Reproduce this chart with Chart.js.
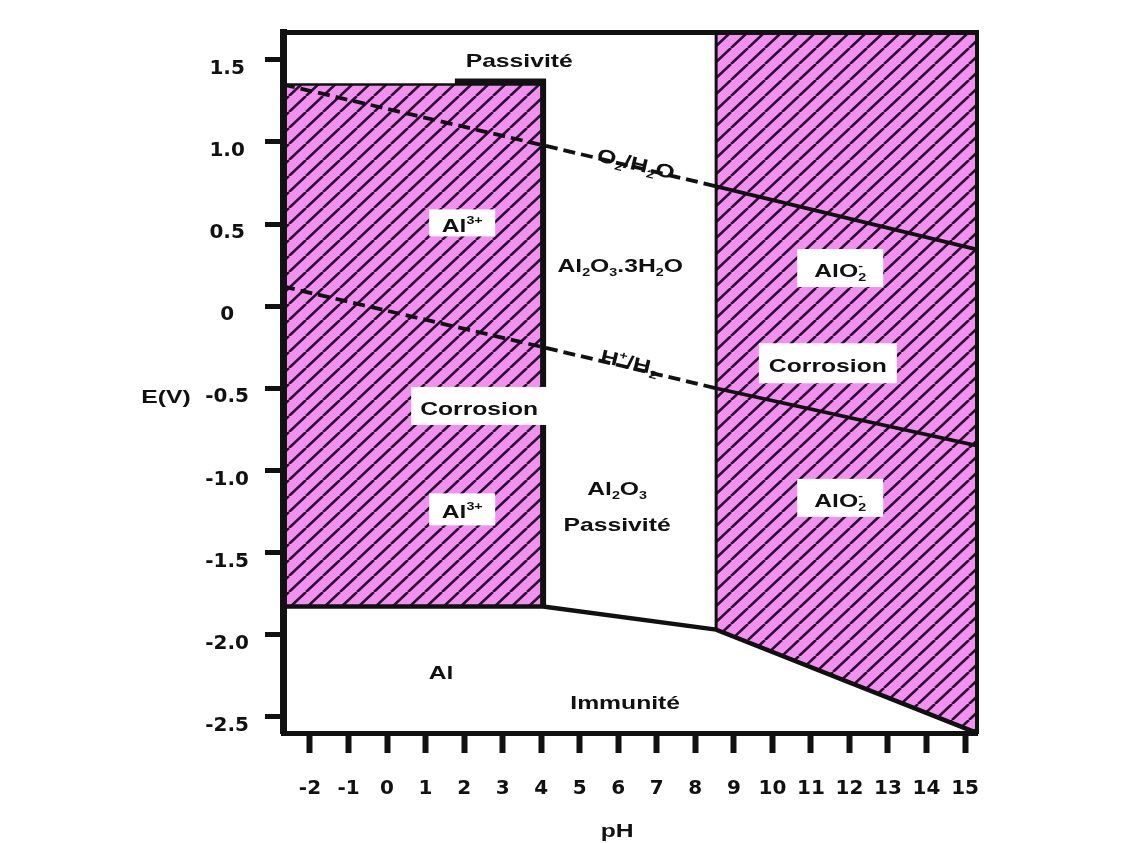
<!DOCTYPE html>
<html>
<head>
<meta charset="utf-8">
<title>Diagramme potentiel-pH de l'aluminium</title>
<script src="https://cdn.jsdelivr.net/npm/chart.js@4.4.1/dist/chart.umd.min.js"></script>
<style>
    html, body { margin: 0; padding: 0; background: #fff; }
    canvas { display: block; }
</style>
</head>
<body>
<canvas id="pourbaix" width="1136" height="843"></canvas>
<script>
/* ============================================================
   Diagramme E-pH de l'aluminium
   ============================================================ */

/* graduations */
var phTicks     = [-2, -1, 0, 1, 2, 3, 4, 5, 6, 7, 8, 9, 10, 11, 12, 13, 14, 15];
var eTicks      = [1.5, 1.0, 0.5, 0, -0.5, -1.0, -1.5, -2.0, -2.5];
var eTickLabels = ['1.5', '1.0', '0.5', '0', '-0.5', '-1.0', '-1.5', '-2.0', '-2.5'];

/* domaines et frontières [pH, E] */
var al3Top        = [[-2.7, 1.35], [4.05, 1.35]];
var al3Bottom     = [[-2.7, -1.83], [4.05, -1.83]];
var alo2Top       = [[8.54, 1.67], [15.31, 1.67]];
var alo2Bottom    = [[8.54, -1.97], [15.31, -2.6]];
var passivityStep = [[1.76, 1.368], [4.05, 1.368], [4.05, -1.83]];
var immunityLimit = [[-2.7, -1.83], [4.05, -1.83], [8.54, -1.97], [15.31, -2.6]];
var alo2Edge      = [[8.54, 1.67], [8.54, -1.97]];

/* droites de l'eau */
var o2Line = [[-2.7, 1.35], [4.05, 0.98], [8.54, 0.73], [15.4, 0.34]];
var h2Line = [[-2.7, 0.12], [4.05, -0.25], [8.54, -0.50], [15.31, -0.85]];

/* textes (position en pH / E) */
var regionLabels = [
    { text: 'Passivité',        x: 3.43,  y: 1.50 },
    { text: 'Al^{3+}',          x: 1.95,  y: 0.495, box: [66, 27] },
    { text: 'Corrosion',        x: 2.39,  y: -0.62, box: [136, 38] },
    { text: 'Al^{3+}',          x: 1.95,  y: -1.25, box: [66, 32] },
    { text: 'Al_{2}O_{3}.3H_{2}O', x: 6.05, y: 0.25 },
    { text: 'AlO_{2}^{-}',      x: 11.76, y: 0.22,  box: [86, 38] },
    { text: 'Corrosion',        x: 11.44, y: -0.36, box: [138, 40] },
    { text: 'AlO_{2}^{-}',      x: 11.76, y: -1.18, box: [86, 38] },
    { text: 'Al_{2}O_{3}',      x: 5.97,  y: -1.11 },
    { text: 'Passivité',        x: 5.97,  y: -1.33 },
    { text: 'Al',               x: 1.40,  y: -2.23 },
    { text: 'Immunité',         x: 6.18,  y: -2.41 },
    { text: 'O_{2}/H_{2}O',     x: 6.46,  y: 0.87,  along: 'o2' },
    { text: 'H^{+}/H_{2}',      x: 6.30,  y: -0.34, along: 'h2' }
];

var INK  = '#111111';
var PINK = '#f290f0';
var HATCH = '#2a0a30';
var LABEL_FONT = '"Liberation Sans", Arial, sans-serif';
var TICK_FONT  = { family: '"DejaVu Sans", sans-serif', size: 20, weight: 'bold' };

/* motif hachuré rose */
function makeHatch() {
    var w = 17, h = 16;
    var c = document.createElement('canvas');
    c.width = w; c.height = h;
    var g = c.getContext('2d');
    g.fillStyle = PINK;
    g.fillRect(0, 0, w, h);
    g.strokeStyle = HATCH;
    g.lineWidth = 2.6;
    for (var k = -1; k <= 1; k++) {
        g.beginPath();
        g.moveTo(k * w, h);
        g.lineTo(k * w + w, 0);
        g.stroke();
    }
    return g.createPattern(c, 'repeat');
}

function toXY(arr) {
    return arr.map(function (p) { return { x: p[0], y: p[1] }; });
}

function edge(data, width) {
    return {
        data: toXY(data), borderColor: INK, borderWidth: width,
        pointRadius: 0, fill: false, tension: 0
    };
}

function waterLine(data) {
    return {
        data: toXY(data), borderColor: INK, borderWidth: 3.8, borderDash: [],
        pointRadius: 0, fill: false, tension: 0,
        segment: {
            borderDash: function (ctx) { return ctx.p0.parsed.x < 8.5 ? [12, 6] : undefined; }
        }
    };
}

/* texte avec indices / exposants */
function richParts(text) {
    var re = /([_^])\{([^}]*)\}|([^_^]+)/g, m, parts = [];
    while ((m = re.exec(text))) {
        if (m[3]) parts.push({ t: m[3], k: 'n' });
        else parts.push({ t: m[2], k: m[1] === '_' ? 'sub' : 'sup' });
    }
    return parts;
}

function drawRich(ctx, text, cx, cy, size, angle) {
    var parts = richParts(text);
    var small = Math.round(size * 0.6);
    var sx = 1.3;
    var x = 0, prev = null, items = [];
    parts.forEach(function (p) {
        ctx.font = 'bold ' + (p.k === 'n' ? size : small) + 'px ' + LABEL_FONT;
        var w = ctx.measureText(p.t).width;
        var start = (p.k === 'sup' && prev && prev.k === 'sub') ? prev.x : x;
        var it = { t: p.t, k: p.k, x: start, w: w };
        items.push(it);
        x = Math.max(x, start + w);
        prev = it;
    });
    ctx.save();
    ctx.translate(cx, cy);
    ctx.rotate(angle || 0);
    ctx.scale(sx, 1);
    ctx.fillStyle = INK;
    ctx.textBaseline = 'alphabetic';
    ctx.textAlign = 'left';
    var base = size * 0.36;
    items.forEach(function (it) {
        ctx.font = 'bold ' + (it.k === 'n' ? size : small) + 'px ' + LABEL_FONT;
        var dy = it.k === 'sub' ? size * 0.22 : (it.k === 'sup' ? -size * 0.42 : 0);
        ctx.fillText(it.t, it.x - x / 2, base + dy);
    });
    ctx.restore();
}

var labelPlugin = {
    id: 'regionLabels',
    afterDatasetsDraw: function (chart) {
        var ctx = chart.ctx, xs = chart.scales.x, ys = chart.scales.y;
        var lines = { o2: o2Line, h2: h2Line };
        regionLabels.forEach(function (l) {
            var px = xs.getPixelForValue(l.x), py = ys.getPixelForValue(l.y);
            var angle = 0;
            if (l.along) {
                var ln = lines[l.along], a = ln[0], b = ln[ln.length - 1];
                angle = Math.atan2(ys.getPixelForValue(b[1]) - ys.getPixelForValue(a[1]),
                                   xs.getPixelForValue(b[0]) - xs.getPixelForValue(a[0]));
            }
            if (l.box) {
                ctx.fillStyle = '#ffffff';
                ctx.fillRect(px - l.box[0] / 2, py - l.box[1] / 2 - 2, l.box[0], l.box[1]);
            }
            drawRich(ctx, l.text, px, py, 19, angle);
        });
        /* titres des axes */
        drawRich(ctx, 'E(V)', ys.left + 166, ys.getPixelForValue(-0.55), 19, 0);
        drawRich(ctx, 'pH', xs.getPixelForValue(5.97), xs.bottom - 13, 19, 0);
    }
};

var hatch = makeHatch();

new Chart(document.getElementById('pourbaix').getContext('2d'), {
    type: 'line',
    data: {
        datasets: [
            waterLine(o2Line),
            waterLine(h2Line),
            edge(passivityStep, 6),
            edge(immunityLimit, 4.5),
            edge(alo2Edge, 3),
            { data: toXY(al3Top), borderColor: INK, borderWidth: 2.5, pointRadius: 0,
              backgroundColor: hatch, fill: '+1', tension: 0 },
            { data: toXY(al3Bottom), borderWidth: 0, pointRadius: 0, fill: false },
            { data: toXY(alo2Top), borderWidth: 0, pointRadius: 0,
              backgroundColor: hatch, fill: '+1', tension: 0 },
            { data: toXY(alo2Bottom), borderWidth: 0, pointRadius: 0, fill: false }
        ]
    },
    options: {
        responsive: false,
        animation: false,
        events: [],
        layout: { padding: { left: 0, right: 159, top: 32, bottom: 0 } },
        plugins: {
            legend:  { display: false },
            tooltip: { enabled: false }
        },
        scales: {
            x: {
                type: 'linear', position: 'bottom', min: -2.7, max: 15.31,
                afterBuildTicks: function (s) { s.ticks = phTicks.map(function (v) { return { value: v }; }); },
                afterFit: function (s) { s.height = 110; },
                ticks: { color: INK, font: TICK_FONT, padding: 24, autoSkip: false, maxRotation: 0,
                         callback: function (v) { return String(v); } },
                grid:   { drawOnChartArea: false, tickLength: 20, tickWidth: 6, tickColor: INK },
                border: { display: true, width: 5, color: INK, z: 1 }
            },
            xTop: {
                type: 'linear', position: 'top',
                afterFit: function (s) { s.height = 0; },
                ticks:  { display: false },
                grid:   { display: false, drawTicks: false },
                border: { display: true, width: 5, color: INK, z: 1 }
            },
            y: {
                type: 'linear', position: 'left', min: -2.6, max: 1.67,
                afterBuildTicks: function (s) { s.ticks = eTicks.map(function (v) { return { value: v }; }); },
                afterFit: function (s) { s.width = 283; },
                ticks: { color: INK, font: TICK_FONT, padding: 16, labelOffset: 9, crossAlign: 'center',
                         callback: function (v) { return eTickLabels[eTicks.indexOf(v)]; } },
                grid:   { drawOnChartArea: false, tickLength: 18, tickWidth: 5, tickColor: INK },
                border: { display: true, width: 7, color: INK, z: 1 }
            },
            yRight: {
                type: 'linear', position: 'right',
                afterFit: function (s) { s.width = 0; },
                ticks:  { display: false },
                grid:   { display: false, drawTicks: false },
                border: { display: true, width: 4, color: INK, z: 1 }
            }
        }
    },
    plugins: [labelPlugin]
});
</script>
</body>
</html>
